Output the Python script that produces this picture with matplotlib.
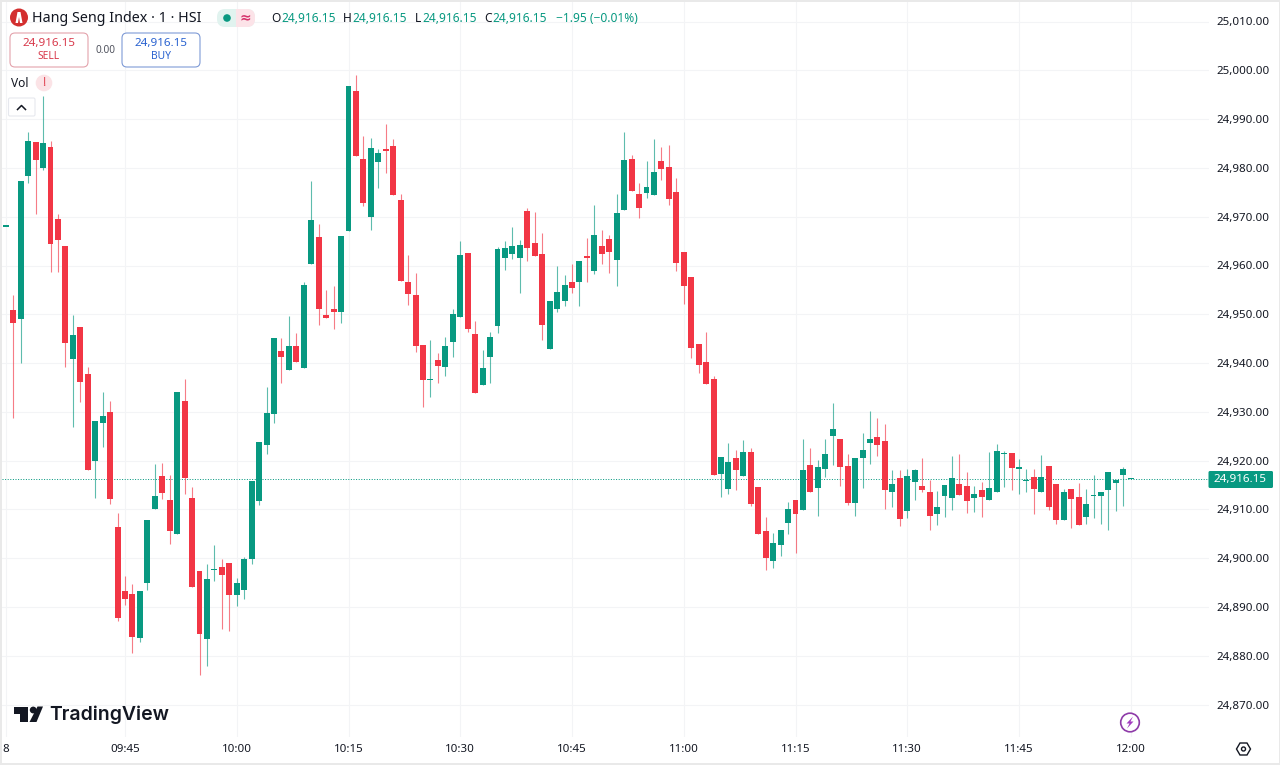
import numpy as np
import matplotlib
matplotlib.use("Agg")
import matplotlib.pyplot as plt
from matplotlib.patches import Circle, FancyBboxPatch, Polygon, Rectangle

plt.rcParams['font.family'] = ['Noto Sans', 'DejaVu Sans']

# one candle per minute, first one is the previous session's last print
opens = [
    24967.9, 24950.9, 24949.0, 24978.3, 24985.4, 24980.0, 24984.3, 24969.6, 24964.0, 24940.8,
    24947.3, 24937.8, 24920.0, 24927.7, 24930.0, 24906.5, 24893.2, 24892.7, 24883.7, 24894.9,
    24910.0, 24916.8, 24911.9, 24905.0, 24932.2, 24912.3, 24897.4, 24883.5, 24897.5, 24898.2,
    24899.0, 24892.4, 24893.6, 24899.8, 24911.8, 24923.2, 24929.6, 24942.5, 24938.6, 24943.6,
    24938.9, 24960.4, 24965.8, 24949.9, 24951.1, 24950.5, 24967.1, 24995.8, 24981.8, 24970.0,
    24981.3, 24983.9, 24984.5, 24973.4, 24956.6, 24954.0, 24943.8, 24936.5, 24940.6, 24939.3,
    24944.3, 24949.4, 24962.6, 24946.0, 24935.5, 24941.2, 24947.6, 24961.6, 24962.4, 24961.5,
    24971.2, 24964.7, 24962.3, 24942.9, 24951.1, 24952.8, 24956.6, 24956.7, 24961.7, 24958.8,
    24964.0, 24965.5, 24961.2, 24971.4, 24981.8, 24974.7, 24974.8, 24974.4, 24981.4, 24980.1,
    24975.0, 24962.8, 24957.7, 24943.9, 24940.3, 24936.7, 24917.2, 24914.2, 24920.5, 24916.9,
    24921.8, 24914.6, 24905.5, 24899.4, 24902.7, 24907.2, 24912.0, 24909.9, 24919.1, 24914.5,
    24918.2, 24925.1, 24924.5, 24918.9, 24911.3, 24920.5, 24923.7, 24924.9, 24924.0, 24913.6,
    24916.4, 24909.6, 24915.7, 24914.9, 24913.6, 24909.1, 24912.8, 24912.4, 24915.2, 24914.8,
    24912.4, 24913.9, 24911.9, 24913.6, 24921.3, 24921.6, 24918.4, 24915.8, 24916.6, 24913.6,
    24918.9, 24915.2, 24907.8, 24914.3, 24912.6, 24908.5, 24912.7, 24912.8, 24914.0, 24915.4,
    24917.0, 24916.15,
]
closes = [
    24967.9, 24948.3, 24977.4, 24985.6, 24981.6, 24985.0, 24964.5, 24965.2, 24944.2, 24945.7,
    24936.1, 24918.0, 24928.1, 24929.1, 24912.1, 24887.7, 24891.6, 24883.9, 24893.4, 24907.9,
    24912.8, 24913.3, 24905.5, 24934.0, 24916.5, 24894.1, 24884.4, 24895.7, 24897.8, 24896.6,
    24892.4, 24895.0, 24899.9, 24915.8, 24923.8, 24929.8, 24945.1, 24941.3, 24943.6, 24940.2,
    24956.0, 24969.3, 24951.1, 24949.2, 24950.4, 24966.0, 24996.8, 24982.4, 24972.8, 24984.1,
    24983.1, 24983.4, 24974.5, 24956.9, 24954.2, 24943.6, 24936.5, 24936.7, 24939.5, 24943.6,
    24950.1, 24962.1, 24947.0, 24933.9, 24938.9, 24945.4, 24963.3, 24963.6, 24964.0, 24964.3,
    24963.6, 24961.9, 24947.9, 24952.7, 24954.5, 24956.1, 24955.4, 24960.9, 24961.6, 24966.2,
    24962.3, 24962.7, 24970.8, 24981.7, 24975.3, 24971.7, 24976.1, 24979.2, 24979.7, 24973.7,
    24960.5, 24955.8, 24943.0, 24939.7, 24935.7, 24917.1, 24920.8, 24919.8, 24918.0, 24921.8,
    24911.1, 24905.0, 24900.1, 24903.2, 24905.9, 24910.2, 24909.1, 24918.0, 24913.5, 24918.7,
    24921.4, 24926.4, 24918.8, 24911.4, 24920.5, 24922.2, 24924.5, 24923.2, 24914.0, 24915.2,
    24908.1, 24916.9, 24918.0, 24913.9, 24908.6, 24910.6, 24915.0, 24916.5, 24912.9, 24911.7,
    24913.2, 24912.6, 24914.4, 24922.0, 24921.5, 24918.5, 24918.5, 24916.0, 24914.2, 24916.6,
    24910.5, 24907.8, 24913.5, 24912.1, 24906.8, 24911.1, 24912.9, 24913.6, 24917.6, 24916.1,
    24918.2, 24916.15,
]
highs = [
    24967.9, 24954.0, 24977.4, 24987.4, 24985.4, 24994.7, 24985.6, 24970.6, 24964.0, 24949.9,
    24947.3, 24939.1, 24928.1, 24934.1, 24932.3, 24909.3, 24896.4, 24894.7, 24893.4, 24907.9,
    24919.3, 24919.6, 24917.1, 24934.0, 24936.8, 24914.7, 24897.4, 24898.8, 24902.7, 24899.9,
    24899.0, 24895.9, 24900.3, 24915.8, 24923.8, 24935.0, 24945.1, 24945.2, 24949.7, 24946.1,
    24956.6, 24977.4, 24968.6, 24955.0, 24955.7, 24966.0, 24996.8, 24999.0, 24986.6, 24986.2,
    24983.8, 24989.0, 24985.9, 24974.6, 24962.1, 24958.4, 24943.8, 24944.7, 24942.1, 24945.4,
    24951.1, 24965.0, 24962.6, 24948.7, 24942.7, 24946.4, 24963.7, 24965.0, 24967.9, 24965.2,
    24971.8, 24971.0, 24966.6, 24952.7, 24960.0, 24958.1, 24960.4, 24960.9, 24965.6, 24972.3,
    24967.3, 24966.2, 24974.7, 24987.4, 24982.6, 24977.0, 24981.5, 24985.9, 24984.2, 24984.7,
    24977.9, 24962.8, 24957.7, 24943.9, 24946.4, 24937.4, 24920.8, 24923.7, 24922.2, 24924.2,
    24922.7, 24914.6, 24908.4, 24905.2, 24905.9, 24911.6, 24912.0, 24924.5, 24922.5, 24920.1,
    24924.4, 24931.9, 24924.5, 24921.4, 24920.5, 24925.7, 24930.2, 24928.7, 24927.5, 24918.1,
    24918.0, 24918.2, 24918.3, 24920.5, 24916.0, 24913.8, 24915.0, 24921.0, 24921.3, 24917.6,
    24914.8, 24915.7, 24921.8, 24923.4, 24922.0, 24921.6, 24920.3, 24918.3, 24918.2, 24921.2,
    24918.9, 24915.2, 24914.3, 24914.3, 24915.5, 24914.1, 24917.1, 24913.6, 24917.6, 24916.1,
    24918.8, 24916.15,
]
lows = [
    24967.9, 24928.8, 24940.0, 24976.9, 24970.6, 24979.6, 24958.7, 24958.6, 24939.1, 24927.0,
    24932.1, 24918.0, 24912.4, 24922.9, 24911.1, 24887.2, 24890.4, 24880.5, 24882.9, 24893.5,
    24910.0, 24912.2, 24902.9, 24905.0, 24913.2, 24894.1, 24876.1, 24877.9, 24895.4, 24885.5,
    24885.0, 24890.2, 24891.6, 24898.8, 24910.9, 24921.4, 24927.7, 24936.0, 24938.6, 24940.2,
    24938.9, 24960.4, 24947.8, 24949.2, 24946.9, 24948.2, 24967.1, 24982.4, 24972.2, 24967.2,
    24975.8, 24978.9, 24974.5, 24956.9, 24951.9, 24942.3, 24931.1, 24933.0, 24936.0, 24937.4,
    24941.3, 24949.4, 24946.4, 24933.9, 24935.5, 24935.9, 24946.2, 24959.1, 24961.3, 24954.3,
    24961.0, 24961.9, 24944.7, 24942.9, 24950.5, 24951.6, 24954.4, 24951.8, 24956.7, 24958.2,
    24960.3, 24958.4, 24955.9, 24971.4, 24975.3, 24969.7, 24973.8, 24974.4, 24977.5, 24972.4,
    24958.9, 24952.1, 24941.1, 24937.9, 24935.7, 24917.1, 24912.6, 24913.2, 24914.0, 24916.9,
    24910.8, 24905.0, 24897.5, 24898.0, 24900.5, 24905.0, 24901.0, 24909.9, 24913.5, 24908.7,
    24916.7, 24919.1, 24914.9, 24910.9, 24908.7, 24914.5, 24919.3, 24921.0, 24910.1, 24910.6,
    24906.6, 24908.2, 24911.9, 24913.6, 24905.8, 24906.8, 24908.5, 24909.9, 24912.9, 24909.2,
    24909.4, 24908.4, 24911.9, 24913.6, 24914.7, 24913.9, 24913.2, 24913.6, 24909.1, 24913.6,
    24909.8, 24907.0, 24907.8, 24906.3, 24906.8, 24907.0, 24908.2, 24907.0, 24905.8, 24909.6,
    24910.7, 24916.15,
]
price_ticks = [25010, 25000, 24990, 24980, 24970, 24960, 24950, 24940, 24930, 24920, 24910, 24900, 24890, 24880, 24870]
time_ticks = [-1, 15, 30, 45, 60, 75, 90, 105, 120, 135, 150]
time_labels = ['8', '09:45', '10:00', '10:15', '10:30', '10:45', '11:00', '11:15', '11:30', '11:45', '12:00']
last_price = 24916.15

GREEN = '#089981'
RED = '#F23645'
W, H = 1280, 765

minutes = np.arange(-1, len(opens) - 1)
opens, closes, highs, lows = map(np.array, (opens, closes, highs, lows))
colors = [GREEN if c >= o else RED for o, c in zip(opens, closes)]

fig = plt.figure(figsize=(W / 100, H / 100), dpi=100, facecolor='#E9E9E9')
fig.add_artist(Rectangle((2 / W, 2 / H), (W - 3) / W, (H - 4) / H, transform=fig.transFigure,
                         facecolor='white', edgecolor='none', zorder=0))

# price pane, scale fitted to the grid of the picture
left, right, top, bottom = 2, 1209, 2, 737
ax = fig.add_axes([left / W, 1 - bottom / H, (right - left) / W, (bottom - top) / H], zorder=1)
ax.patch.set_alpha(0)
ax.set_xlim((left - 13.25) / 7.45, (right - 13.25) / 7.45)
ax.set_ylim(24920 - (bottom - 460.7) / 4.88, 24920 + (460.7 - top) / 4.88)
for s in ax.spines.values():
    s.set_visible(False)

ax.grid(True, color='#F3F4F6', lw=0.8, zorder=0)
ax.set_axisbelow(True)
ax.set_yticks(price_ticks, [f'{p:,.2f}' for p in price_ticks])
ax.set_xticks(time_ticks, time_labels)
ax.yaxis.tick_right()
ax.tick_params(axis='y', length=0, pad=5.6, labelsize=8.3, labelcolor='#131722')
ax.tick_params(axis='x', length=0, pad=5.2, labelsize=8.3, labelcolor='#131722')
plt.setp(ax.get_yticklabels(), va='center_baseline')

ax.axhline(last_price, color=GREEN, lw=0.72, ls=(0, (1, 1.6)), zorder=1)
ax.vlines(minutes, lows, highs, colors=colors, lw=0.8, alpha=0.65, zorder=2)
ax.bar(minutes, np.maximum(np.abs(closes - opens), 0.3), bottom=np.minimum(opens, closes),
       width=0.8, color=colors, linewidth=0, zorder=3)

# everything around the chart is placed in pixels
ui = fig.add_axes([0, 0, 1, 1], zorder=2)
ui.set_xlim(0, W)
ui.set_ylim(H, 0)
ui.axis('off')


def label(x, y, s, size=8.2, color='#131722', ha='left', weight='normal'):
    ui.text(x, y, s, fontsize=size, color=color, ha=ha, va='center', fontweight=weight)


def box(x0, y0, x1, y1, edge, face='white', r=5, lw=0.8):
    ui.add_patch(FancyBboxPatch((x0 + r, y0 + r), x1 - x0 - 2 * r, y1 - y0 - 2 * r,
                                boxstyle=f'round,pad={r},rounding_size={r}',
                                facecolor=face, edgecolor=edge, lw=lw))


# title row
ui.add_patch(Circle((19, 17.5), 9, color='#D32F2F', lw=0))
ui.add_patch(Polygon([(15.5, 23), (17.5, 12), (20.5, 12), (22.5, 23), (20, 23), (19, 17), (18, 23)], color='white', lw=0))
label(32, 18, 'Hang Seng Index · 1 · HSI', size=10.3)
box(217, 9, 255, 27, 'none', face='#E1F3EF', r=8)
ui.add_patch(Rectangle((236, 9), 11, 18, color='#FCE3E8', lw=0))
box(236, 9, 255, 27, 'none', face='#FCE3E8', r=8)
ui.add_patch(Circle((227, 18), 3.8, color=GREEN, lw=0))
label(245, 17.5, '≈', size=10, color='#D6336C', ha='center', weight='bold')

for x, letter, vx, value in [(271.5, 'O', 281.5, '24,916.15'), (343, 'H', 352.5, '24,916.15'),
                             (415, 'L', 422, '24,916.15'), (484, 'C', 492.5, '24,916.15')]:
    label(x, 18, letter, size=8.6)
    label(vx, 18, value, size=8.6, color=GREEN)
label(556, 18, '−1.95 (−0.01%)', size=8.6, color=GREEN)

# sell / buy
box(10, 33, 88, 67, '#E3A3AC')
label(49, 43, '24,916.15', size=8.4, color='#D8394B', ha='center', weight='bold')
label(49, 56.5, 'SELL', size=7.4, color='#D8394B', ha='center')
label(105, 50, '0.00', size=7.2, color='#50535E', ha='center')
box(122, 33, 200, 67, '#7F9BD6')
label(161, 43, '24,916.15', size=8.4, color='#2962D0', ha='center', weight='bold')
label(161, 56.5, 'BUY', size=7.4, color='#2962D0', ha='center')

# volume legend
label(11, 83, 'Vol', size=8.6)
ui.add_patch(Circle((44, 83), 8.3, color='#FBE3E6', lw=0))
label(44, 82.5, '!', size=9, color='#E0404F', ha='center', weight='bold')
box(8.5, 98, 35, 116, '#E6E8EE', r=1.5)
ui.plot([17.5, 21.5, 25.5], [109.5, 105.5, 109.5], color='#131722', lw=1.1)

# logo
ui.add_patch(Polygon([(13.5, 706.5), (28, 706.5), (28, 722), (20, 722), (20, 713.5), (13.5, 713.5)], color='#131722', lw=0))
ui.add_patch(Circle((33.2, 710), 3.4, color='#131722', lw=0))
ui.add_patch(Polygon([(37.5, 706.5), (43, 706.5), (36.5, 722), (29.5, 722)], color='#131722', lw=0))
ui.text(49.5, 715, 'TradingView', fontsize=14, color='#131722', ha='left', va='center', fontweight='semibold', family='Inter')

# last price tag
box(1208.5, 471, 1273, 488, 'none', face=GREEN, r=1.5)
label(1240.5, 479.5, '24,916.15', size=8.4, color='white', ha='center', weight='bold')

# lightning badge
ui.add_patch(Circle((1130, 722.5), 9.3, facecolor='white', edgecolor='#8E3BA8', lw=1.2))
ui.add_patch(Polygon([(1133, 716.5), (1126.5, 723.5), (1129.5, 723.5), (1127, 728.5), (1133.5, 721.5), (1130.5, 721.5)], color='#A23CC0', lw=0))

# settings button
ui.add_patch(Polygon([(1236.5, 749), (1240, 743), (1247, 743), (1250.5, 749), (1247, 755), (1240, 755)],
                     facecolor='white', edgecolor='#131722', lw=1))
ui.add_patch(Circle((1243.5, 749), 2, facecolor='white', edgecolor='#131722', lw=1))

fig.savefig('out.png', dpi=100, facecolor=fig.get_facecolor())
